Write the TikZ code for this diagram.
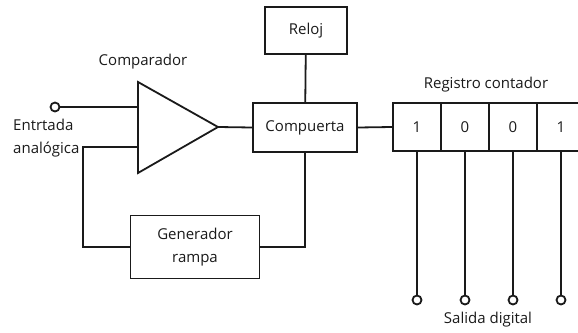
\documentclass[tikz,border=0pt]{standalone}
\usepackage{fontspec}
\setmainfont{Open Sans}
\usepackage{xcolor}
\definecolor{tinta}{HTML}{1A1A1A}

\begin{document}
\begin{tikzpicture}[x=1pt, y=-1pt, line width=1.8pt, color=tinta,
    every node/.style={font=\fontsize{15}{23}\selectfont, text=tinta},
    bloque/.style={draw, fill=white, inner sep=0pt, align=center},
    celda/.style={draw, minimum width=48pt, minimum height=48pt, inner sep=0pt},
    borne/.style={circle, draw, fill=white, minimum size=9pt, inner sep=0pt}]
    \useasboundingbox (0,0) rectangle (578,332);
    % comparador
    \draw (138,82) -- (138,173) -- (218,127) -- cycle;
    \coordinate (cmp-in1) at (138,107);
    \coordinate (cmp-in2) at (138,147);
    \coordinate (cmp-out) at (218,127);
    \node (cmp-lbl) at (143,62) {Comparador};
    % bloques
    \node[bloque, minimum width=82pt, minimum height=47pt] (reloj) at (306,30.5) {Reloj};
    \node[bloque, minimum width=104pt, minimum height=49pt] (comp) at (305,127.5) {Compuerta};
    \node[bloque, minimum width=129pt, minimum height=63pt] (gen) at (195,247) {Generador\\rampa};
    % registro contador
    \node[celda] (reg1) at (417,127) {1};
    \node[celda] (reg2) at (465,127) {0};
    \node[celda] (reg3) at (513,127) {0};
    \node[celda] (reg4) at (561,127) {1};
    \node (reg-lbl) at (486,85) {Registro contador};
    % bornes
    \node[borne] (ent) at (55,107) {};
    \node[align=left, anchor=west] (ent-lbl) at (9,138) {Entrtada\\analógica};
    \foreach \i/\x in {1/417, 2/465, 3/513, 4/561}
        \node[borne] (sal\i) at (\x,300) {};
    \node (sal-lbl) at (488,320) {Salida digital};
    % conexiones
    \draw (ent.east) -- (cmp-in1);
    \draw (cmp-out) -- (comp.west);
    \draw (reloj) -- (comp);
    \draw (comp.east) -- (reg1.west);
    \draw (cmp-in2) -- ++(-55,0) |- (gen.west);
    \draw (gen.east) -| (comp.south);
    \foreach \i in {1,...,4}
        \draw (reg\i.south) -- (sal\i.north);
\end{tikzpicture}
\end{document}
